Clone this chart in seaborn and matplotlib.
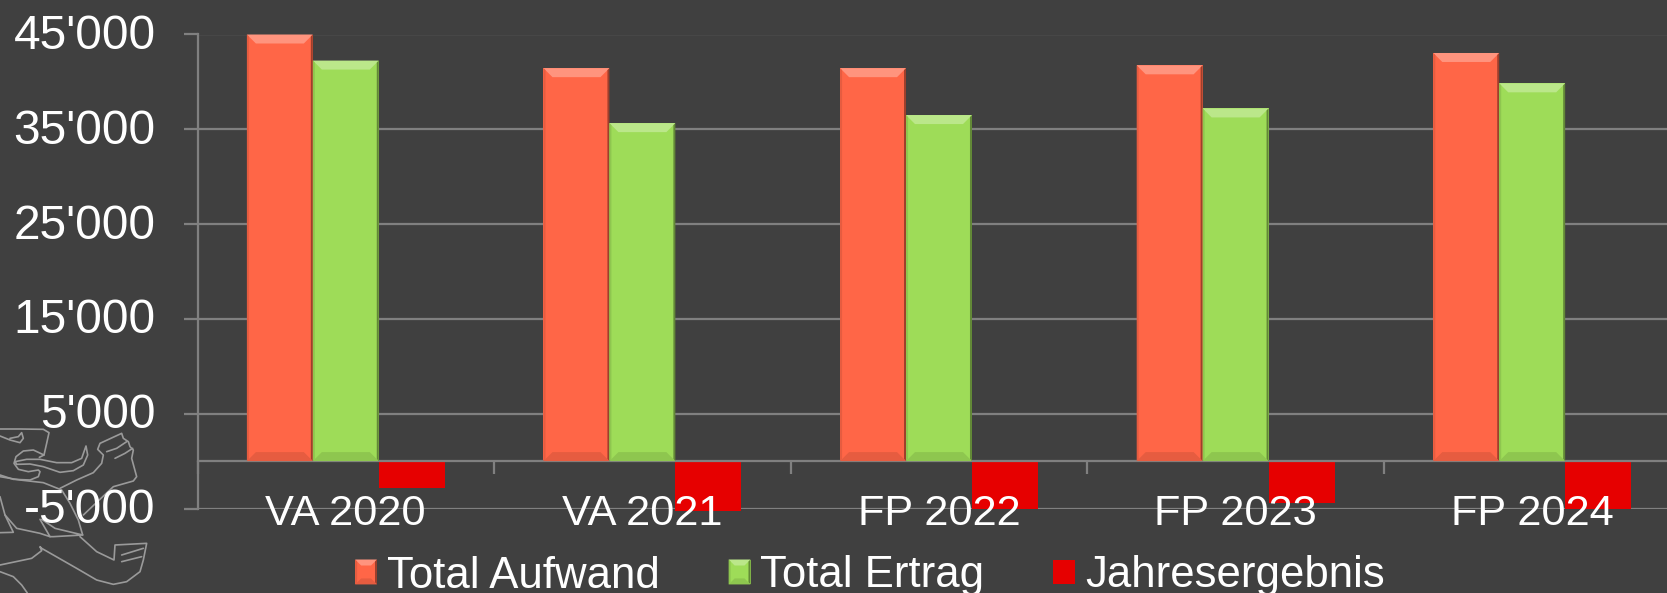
import matplotlib
matplotlib.use('Agg')
import matplotlib.pyplot as plt
import matplotlib.colors as mcolors
from matplotlib.patches import Polygon
from matplotlib.transforms import ScaledTranslation
import pandas as pd
import seaborn as sns

categories = ['VA 2020', 'VA 2021', 'FP 2022', 'FP 2023', 'FP 2024']
aufwand = [45000, 41450, 41450, 41750, 43050]
ertrag = [42250, 35650, 36500, 37200, 39850]
ergebnis = [-2850, -5250, -5000, -4400, -5050]
series_names = ['Total Aufwand', 'Total Ertrag', 'Jahresergebnis']
colors = ['#ff6647', '#9edc58', '#e60000']
y_ticks = [-5000, 5000, 15000, 25000, 35000, 45000]
y_labels = ["-5'000", "5'000", "15'000", "25'000", "35'000", "45'000"]

bg = '#404040'
grid = '#808080'
W, H = 1667, 593

df = pd.DataFrame({'cat': categories * 3,
                   'name': [n for n in series_names for _ in categories],
                   'value': aufwand + ertrag + ergebnis})

sns.set_theme(style='dark')
plt.rcParams['font.family'] = ['Liberation Sans', 'DejaVu Sans']

fig = plt.figure(figsize=(W / 100, H / 100), dpi=100, facecolor=bg)
# five categories are 296.6 px each, so the last one runs off the right edge
ax = fig.add_axes([197.5 / W, 1 - 508.5 / H, 5 * 296.6 / W, 474 / H], facecolor=bg)

sns.barplot(data=df, x='cat', y='value', hue='name', order=categories,
            hue_order=series_names, palette=colors, saturation=1, gap=0.0,
            width=0.667, errorbar=None, legend=False, ax=ax, zorder=2, linewidth=0)
ax.set_xlim(-0.5, 4.5)
ax.set_ylim(-5000, 45000)
ax.set_xlabel('')
ax.set_ylabel('')

ax.grid(False)
ax.yaxis.grid(True, color=grid, lw=1.6)
ax.set_axisbelow(True)
ax.xaxis.set_zorder(5)
for s in ['top', 'right']:
    ax.spines[s].set_visible(False)
ax.spines['bottom'].set_position(('data', 0))
for s in ['left', 'bottom']:
    ax.spines[s].set_color(grid)
    ax.spines[s].set_linewidth(1.6)

ax.set_yticks(y_ticks, y_labels)
ax.tick_params(axis='y', left=True, length=10, width=1.6, color=grid, pad=20,
               labelsize=34.5, labelcolor='white')
ax.set_xticks(range(5), categories)
ax.set_xticks([i - 0.5 for i in range(6)], minor=True)
ax.tick_params(axis='x', which='major', bottom=False, pad=18,
               labelsize=31.2, labelcolor='white')
ax.tick_params(axis='x', which='minor', bottom=True, length=9, width=1.6, color=grid)
up = ScaledTranslation(0, 3 / 100, fig.dpi_scale_trans)
for lab in ax.get_yticklabels():
    lab.set_transform(lab.get_transform() + up)


def bevel(bbox, color, size, zorder=3):
    # light top, darker sides and bottom, in figure pixels
    x0, x1 = bbox.x0, bbox.x1
    y0, y1 = bbox.y0, bbox.y1
    rgb = mcolors.to_rgb(color)
    light = tuple(c + (1 - c) * 0.3 for c in rgb)
    dark = tuple(c * 0.62 for c in rgb)
    mid = tuple(c * 0.9 for c in rgb)
    s = size
    faces = [([(x0, y1), (x1, y1), (x1 - s, y1 - s), (x0 + s, y1 - s)], light),
             ([(x1, y1), (x1, y0), (x1 - 2, y0 + 2), (x1 - 2, y1 - 2)], dark),
             ([(x0, y1), (x0, y0), (x0 + 2, y0 + 2), (x0 + 2, y1 - 2)], mid),
             ([(x0, y0), (x1, y0), (x1 - s, y0 + s), (x0 + s, y0 + s)], mid)]
    for pts, c in faces:
        fig.add_artist(Polygon(pts, closed=True, transform=None, fc=c, ec='none', zorder=zorder))


fig.canvas.draw()
for patch in ax.patches:
    if patch.get_height() > 0:
        bevel(patch.get_window_extent(), patch.get_facecolor(), 9)
    else:
        patch.set_clip_on(False)

handles = [plt.Rectangle((0, 0), 1, 1, fc=c, ec='none') for c in colors]
leg = fig.legend(handles, series_names, loc='center left',
                 bbox_to_anchor=(342 / W, 1 - 576 / H), ncol=3, frameon=False,
                 fontsize=31.5, labelcolor='white', handlelength=0.5, handleheight=0.5,
                 handletextpad=0.22, columnspacing=1.58, borderpad=0, borderaxespad=0.3)

# lion outline behind the axis labels, traced in px from the corner crop (x/3, 420+y/3)
lion = [
    [(0, 27), (60, 27), (130, 28), (147, 38), (140, 70), (132, 105), (118, 112)],
    [(0, 48), (30, 60), (60, 68), (70, 55), (65, 38), (55, 50), (30, 55)],
    [(132, 105), (100, 90), (70, 93), (48, 110), (42, 130), (55, 148), (85, 155), (115, 150), (120, 155), (115, 170), (90, 180), (40, 178), (0, 165)],
    [(45, 125), (80, 118), (120, 118), (170, 128), (215, 128), (245, 115), (258, 78), (263, 105), (250, 135), (220, 152), (180, 157), (130, 140), (90, 132), (50, 133), (45, 125)],
    [(180, 205), (230, 180), (280, 158), (305, 130), (310, 105), (293, 88), (300, 70), (365, 40), (370, 55), (385, 65), (390, 80), (400, 90), (395, 115), (410, 170), (400, 183), (340, 200), (250, 285)],
    [(320, 95), (350, 85), (380, 65)],
    [(345, 115), (375, 100), (398, 85)],
    [(0, 170), (60, 180), (130, 188), (185, 210), (210, 250), (235, 300), (248, 345)],
    [(0, 230), (15, 285), (40, 337), (0, 338)],
    [(15, 285), (50, 325), (120, 340), (150, 350), (120, 298)],
    [(125, 298), (165, 325), (248, 345), (160, 350), (150, 350)],
    [(240, 350), (290, 395), (342, 420), (345, 375), (440, 370), (430, 420), (420, 455), (380, 485), (340, 493), (290, 480), (230, 445), (125, 385), (120, 380), (125, 392), (95, 415), (0, 435)],
    [(365, 405), (430, 385)],
    [(365, 425), (425, 410)],
    [(0, 455), (40, 470), (65, 495), (82, 519)],
]
for pts in lion:
    xs = [p[0] / 3 for p in pts]
    ys = [H - (420 + p[1] / 3) for p in pts]
    fig.add_artist(plt.Line2D(xs, ys, transform=None, color='#9a9a9a', lw=1.2, zorder=0,
                              solid_joinstyle='round'))

fig.canvas.draw()
for p, c in zip(leg.get_patches(), colors):
    if c != colors[2]:
        bevel(p.get_window_extent(), c, 6, zorder=6)

fig.savefig('out.png', dpi=100, facecolor=bg)
